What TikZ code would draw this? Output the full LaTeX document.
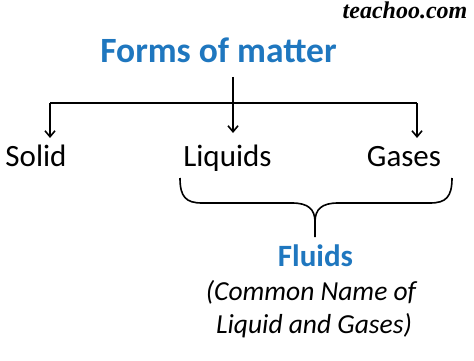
\documentclass[tikz,border=0pt]{standalone}
\usepackage{fontspec}
\setmainfont{Carlito}
\newfontfamily\wmfont{Liberation Serif}
\usetikzlibrary{arrows.meta}
\definecolor{titleblue}{RGB}{31,119,191}
\tikzset{
  conn/.style={line width=1.6pt},
  arr/.style={conn,-{Straight Barb[length=6pt,width=10pt,line width=1.6pt]}},
  bluehead/.style={anchor=base,text=titleblue,inner sep=0pt},
  item/.style={anchor=base,font=\fontsize{31}{37}\selectfont,inner sep=0pt},
  note/.style={anchor=base,font=\itshape\fontsize{27.5}{33}\selectfont,inner sep=0pt}
}
\begin{document}
\begin{tikzpicture}[x=1pt,y=1pt]
\useasboundingbox[fill=white] (0,0) rectangle (474,-361);
\node[anchor=base,inner sep=0pt,font=\wmfont\bfseries\itshape\fontsize{24}{28}\selectfont] (wm) at (405,-19) {teachoo.com};
\node[bluehead,font=\bfseries\fontsize{35.5}{42}\selectfont] (title) at (218.5,-63) {Forms of matter};
\node[item] (solid) at (36,-166) {Solid};
\node[item] (liquids) at (227.5,-166) {Liquids};
\node[item] (gases) at (404,-166) {Gases};
\node[bluehead,font=\bfseries\fontsize{31}{37}\selectfont] (fluids) at (315.5,-266) {Fluids};
\node[note] (note1) at (311,-300) {(Common Name of};
\node[note] (note2) at (314,-333) {Liquid and Gases)};
\coordinate (top) at (233,-77);
\coordinate (jn) at (233,-103);
\coordinate (jl) at (50,-103);
\coordinate (jr) at (417,-103);
\coordinate (al) at (50,-138);
\coordinate (am) at (233,-133);
\coordinate (ar) at (417,-138);
\draw[conn] (top) -- (jn);
\draw[conn] (jl) -- (jr);
\draw[arr] (jl) -- (al);
\draw[arr] (jn) -- (am);
\draw[arr] (jr) -- (ar);
% brace
\coordinate (bl) at (180,-178);
\coordinate (br) at (452,-178);
\coordinate (bt) at (315,-237);
\draw[conn,line join=round] (bl) .. controls (180,-197) and (186,-203) .. (202,-203)
  -- (292,-203) .. controls (308,-203) and (315,-209) .. (315,-222) -- (bt);
\draw[conn,line join=round] (br) .. controls (452,-197) and (446,-203) .. (430,-203)
  -- (338,-203) .. controls (322,-203) and (315,-209) .. (315,-222);
\end{tikzpicture}
\end{document}
